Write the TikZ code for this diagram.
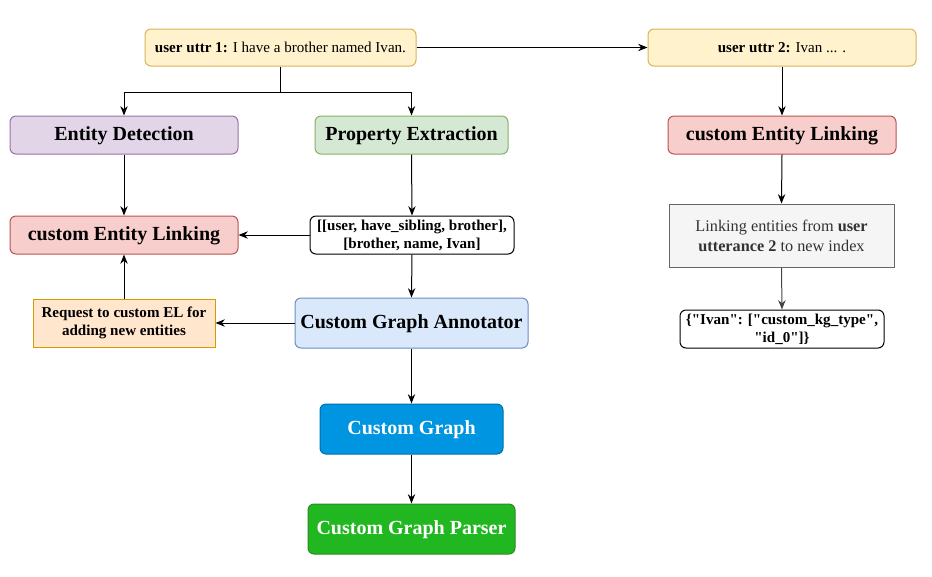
\documentclass[tikz,border=0pt]{standalone}
\usepackage{fontspec}
\setmainfont{Liberation Serif}
\usetikzlibrary{arrows.meta}
\definecolor{yfill}{HTML}{FFF2CC}\definecolor{ydraw}{HTML}{D6B656}
\definecolor{pfill}{HTML}{E1D5E7}\definecolor{pdraw}{HTML}{9673A6}
\definecolor{gfill}{HTML}{D5E8D4}\definecolor{gdraw}{HTML}{82B366}
\definecolor{rfill}{HTML}{F8CECC}\definecolor{rdraw}{HTML}{B85450}
\definecolor{ofill}{HTML}{FFE6CC}\definecolor{odraw}{HTML}{D79B00}
\definecolor{bfill}{HTML}{DAE8FC}\definecolor{bdraw}{HTML}{6C8EBF}
\definecolor{cgfill}{HTML}{0095E0}\definecolor{cgdraw}{HTML}{006EAF}
\definecolor{cpfill}{HTML}{21B721}\definecolor{cpdraw}{HTML}{2D8A1E}
\definecolor{sfill}{HTML}{F5F5F5}\definecolor{sdraw}{HTML}{666666}\definecolor{stext}{HTML}{333333}
\definecolor{adraw}{HTML}{444444}
\tikzset{
  box/.style={draw, line width=0.75pt, rounded corners=4.5pt, align=center, inner sep=0pt},
  big/.style={font=\fontsize{15}{18}\selectfont\bfseries, text height=1em, text depth=0.2em},
  small/.style={font=\fontsize{11.3}{13.5}\selectfont, text height=0.95em, text depth=0.2em},
  smallb/.style={font=\fontsize{11.3}{13.5}\selectfont\bfseries},
  arr/.style={-{Stealth[length=7pt,width=5.5pt]}, line width=0.75pt},
}
\begin{document}
\begin{tikzpicture}[x=0.75pt,y=-0.75pt]
\useasboundingbox (0,0) rectangle (932,576);
\node[box, small, fill=yfill, draw=ydraw, minimum width=203.25pt, minimum height=27.75pt] (u1) at (280.5,47.5) {\textbf{user uttr 1:} I have a brother named Ivan.};
\node[box, small, fill=yfill, draw=ydraw, minimum width=201pt, minimum height=27.75pt] (u2) at (782,47.5) {\textbf{user uttr 2:} Ivan ... .};
\node[box, big, fill=pfill, draw=pdraw, minimum width=171pt, minimum height=28.5pt] (ed) at (124,135) {Entity Detection};
\node[box, big, fill=gfill, draw=gdraw, minimum width=144.75pt, minimum height=28.5pt] (pe) at (411.5,135) {Property Extraction};
\node[box, big, fill=rfill, draw=rdraw, minimum width=171pt, minimum height=28.5pt] (el) at (124,235) {custom Entity Linking};
\node[box, smallb, fill=white, draw=black, minimum width=153pt, minimum height=28.5pt] (tr) at (412,235) {[[user, have\_sibling, brother],\\ {}[brother, name, Ivan]};
\node[box, rounded corners=0pt, smallb, fill=ofill, draw=odraw, minimum width=136.5pt, minimum height=36pt] (rq) at (124,323) {Request to custom EL for\\ adding new entities};
\node[box, big, fill=bfill, draw=bdraw, minimum width=174.75pt, minimum height=37.5pt] (cga) at (411.5,323) {Custom Graph Annotator};
\node[box, big, text=white, fill=cgfill, draw=cgdraw, minimum width=137.25pt, minimum height=37.5pt] (cg) at (411.5,429) {Custom Graph};
\node[box, big, text=white, fill=cpfill, draw=cpdraw, minimum width=155.25pt, minimum height=37.5pt] (cgp) at (411.5,529) {Custom Graph Parser};
\node[box, big, fill=rfill, draw=rdraw, minimum width=171pt, minimum height=28.5pt] (el2) at (782,135) {custom Entity Linking};
\node[box, rounded corners=0pt, font=\fontsize{12.2}{15}\selectfont, text=stext, fill=sfill, draw=sdraw, minimum width=168.75pt, minimum height=47.25pt] (lk) at (781.5,235.5) {Linking entities from \textbf{user}\\ \textbf{utterance 2} to new index};
\node[box, smallb, fill=white, draw=black, minimum width=153pt, minimum height=28.5pt] (js) at (782,329) {\{\textquotedbl Ivan\textquotedbl: [\textquotedbl custom\_kg\_type\textquotedbl,\\ \textquotedbl id\_0\textquotedbl]\}};
\coordinate (sp) at (280.5,92);
\draw[arr] (u1.south) -- (sp) -| (ed.north);
\draw[arr] (sp) -| (pe.north);
\draw[arr] (u1.east) -- (u2.west);
\draw[arr] (u2.south) -- (el2.north);
\draw[arr] (el2.south) -- (lk.north);
\draw[arr, draw=adraw] (lk.south) -- (js.north);
\draw[arr] (ed.south) -- (el.north);
\draw[arr] (pe.south) -- (tr.north);
\draw[arr] (tr.west) -- (el.east);
\draw[arr] (tr.south) -- (cga.north);
\draw[arr] (cga.west) -- (rq.east);
\draw[arr] (rq.north) -- (el.south);
\draw[arr] (cga.south) -- (cg.north);
\draw[arr] (cg.south) -- (cgp.north);
\end{tikzpicture}
\end{document}
